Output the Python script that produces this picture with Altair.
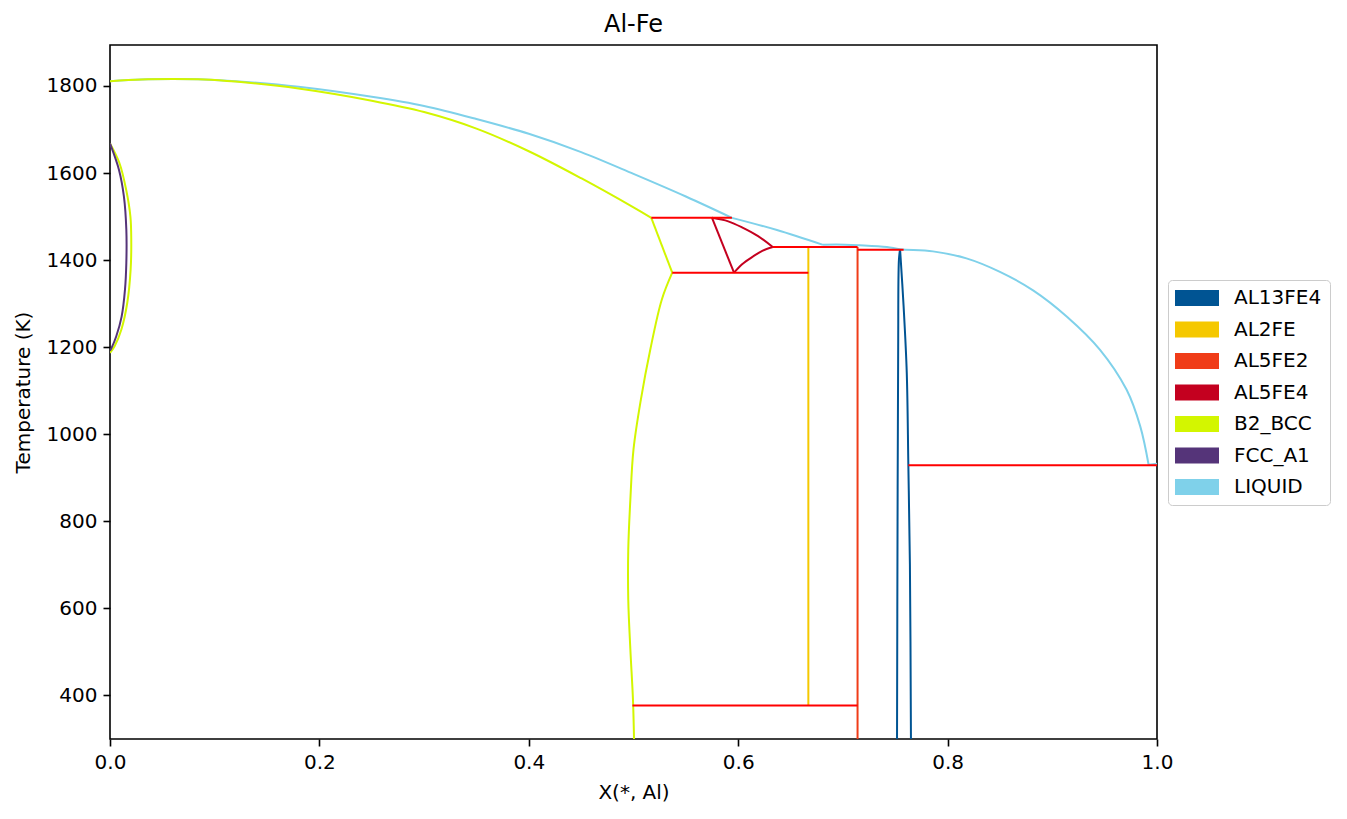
import altair as alt
import pandas as pd

PHASES = ["AL13FE4", "AL2FE", "AL5FE2", "AL5FE4", "B2_BCC", "FCC_A1", "LIQUID"]
COLORS = ["#005493", "#f5c800", "#f03c18", "#c4001f", "#d3f600", "#553479", "#7fd1ea"]

# LIQUID boundary (liquidus), split at kinks
LIQ1_X = [0.0, 0.03, 0.06, 0.09, 0.12, 0.18, 0.25, 0.30, 0.35, 0.40, 0.45, 0.50, 0.55, 0.594]
LIQ1_T = [1811, 1815, 1816, 1815, 1811, 1798, 1775, 1754, 1724, 1690, 1648, 1598, 1546, 1497]
LIQ2_X = [0.594, 0.637, 0.681]
LIQ2_T = [1497, 1469, 1435]
LIQ3_X = [0.681, 0.694, 0.716, 0.742, 0.7546, 0.786, 0.818, 0.850, 0.882, 0.914, 0.9456,
          0.971, 0.984, 0.992]
LIQ3_T = [1435, 1436, 1434, 1430, 1425, 1420, 1404, 1373, 1330, 1270, 1194,
          1102, 1018, 930]
LIQ4_X = [0.992, 1.0]
LIQ4_T = [930, 932]

# B2_BCC: solidus, connection and solvus towards Al-rich side
B2A_X = [0.0, 0.03, 0.06, 0.09, 0.12, 0.18, 0.25, 0.30, 0.35, 0.40, 0.45, 0.50, 0.517]
B2A_T = [1811, 1815, 1816, 1815, 1810, 1794, 1766, 1740, 1702, 1650, 1588, 1521, 1497]
B2B_X = [0.517, 0.537]
B2B_T = [1497, 1371]
B2C_X = [0.537, 0.527, 0.516, 0.507, 0.500, 0.497, 0.495, 0.495, 0.497, 0.4995, 0.5005]
B2C_T = [1371, 1309, 1194, 1079, 965, 850, 735, 620, 506, 390, 300]

# B2_BCC side of the gamma loop
B2L_X = [0.0, 0.009, 0.0155, 0.0195, 0.0203, 0.0197, 0.0165, 0.0108, 0.0044, 0.0]
B2L_T = [1668, 1623, 1561, 1500, 1447, 1378, 1302, 1240, 1202, 1187]

# FCC_A1 gamma loop
FCC_X = [0.0, 0.0086, 0.0133, 0.0156, 0.0156, 0.0143, 0.0111, 0.006, 0.0016, 0.0]
FCC_T = [1668, 1607, 1546, 1470, 1394, 1332, 1270, 1225, 1199, 1192]

# AL5FE4 lens
A54A_X = [0.575, 0.596]
A54A_T = [1497, 1371]
A54B_X = [0.575, 0.5905, 0.6046, 0.619, 0.633]
A54B_T = [1497, 1489, 1474, 1455, 1430]
A54C_X = [0.596, 0.604, 0.614, 0.623, 0.633]
A54C_T = [1371, 1391, 1408, 1421, 1430]

# AL2FE and AL5FE2 line compounds
A2_X = [0.667, 0.667]
A2_T = [1430, 377]
A52_X = [0.714, 0.714]
A52_T = [1430, 300]

# AL13FE4 narrow field
A134L_X = [0.7517, 0.7522, 0.7528, 0.7535, 0.7546]
A134L_T = [300, 800, 1200, 1400, 1425]
A134R_X = [0.7546, 0.758, 0.761, 0.7625, 0.764, 0.765]
A134R_T = [1425, 1293, 1141, 930, 700, 300]

# three-phase (tie) lines
TIE_X1 = [0.517, 0.537, 0.633, 0.714, 0.7625, 0.499]
TIE_X2 = [0.594, 0.667, 0.714, 0.758, 1.0, 0.714]
TIE_T = [1497, 1371, 1430, 1424, 929, 377]

segments = [
    ("LIQUID", LIQ1_X, LIQ1_T),
    ("LIQUID", LIQ2_X, LIQ2_T),
    ("LIQUID", LIQ3_X, LIQ3_T),
    ("LIQUID", LIQ4_X, LIQ4_T),
    ("B2_BCC", B2A_X, B2A_T),
    ("B2_BCC", B2B_X, B2B_T),
    ("B2_BCC", B2C_X, B2C_T),
    ("B2_BCC", B2L_X, B2L_T),
    ("FCC_A1", FCC_X, FCC_T),
    ("AL5FE4", A54A_X, A54A_T),
    ("AL5FE4", A54B_X, A54B_T),
    ("AL5FE4", A54C_X, A54C_T),
    ("AL2FE", A2_X, A2_T),
    ("AL5FE2", A52_X, A52_T),
    ("AL13FE4", A134L_X, A134L_T),
    ("AL13FE4", A134R_X, A134R_T),
]

rows = []
for i, (ph, xs, ts) in enumerate(segments):
    for j, (x, t) in enumerate(zip(xs, ts)):
        rows.append({"seg": i, "phase": ph, "ord": j, "X": x, "T": t})
df = pd.DataFrame(rows)
tie = pd.DataFrame({"x1": TIE_X1, "x2": TIE_X2, "T": TIE_T})
# legend-only data: one point per phase, placed outside the plotted domain (clipped)
leg = pd.DataFrame({"phase": PHASES, "X": [-1.0] * len(PHASES), "T": [1000] * len(PHASES)})

FONT = "DejaVu Sans"
RECT = "M-2.75,-1H2.75V1H-2.75Z"
xscale = alt.Scale(domain=[0, 1], nice=False, zero=False)
yscale = alt.Scale(domain=[300, 1894], nice=False, zero=False)
cscale = alt.Scale(domain=PHASES, range=COLORS)

xenc = alt.X("X:Q", scale=xscale, title="X(*, Al)",
             axis=alt.Axis(values=[0, 0.2, 0.4, 0.6, 0.8, 1.0], format=".1f", labelFlush=False))
yenc = alt.Y("T:Q", scale=yscale, title="Temperature (K)",
             axis=alt.Axis(values=[400, 600, 800, 1000, 1200, 1400, 1600, 1800], format="d",
                           labelFlush=False))

legend_layer = alt.Chart(leg).mark_point(filled=True, clip=True, shape=RECT, size=256,
                                         opacity=1, strokeWidth=0).encode(
    x=xenc,
    y=yenc,
    color=alt.Color("phase:N", scale=cscale, title=None,
                    legend=alt.Legend(orient="none", legendX=1058, legendY=235)),
)

lines = alt.Chart(df).mark_line(strokeWidth=2, clip=True, interpolate="catmull-rom").encode(
    x=alt.X("X:Q", scale=xscale),
    y=alt.Y("T:Q", scale=yscale),
    color=alt.Color("phase:N", scale=cscale, legend=None),
    detail="seg:N",
    order="ord:Q",
)

ties = alt.Chart(tie).mark_rule(strokeWidth=2, color="#ff0000").encode(
    x=alt.X("x1:Q", scale=xscale),
    x2="x2:Q",
    y=alt.Y("T:Q", scale=yscale),
)

chart = alt.layer(legend_layer, lines, ties).resolve_legend(color="independent").properties(
    width=1047,
    height=694,
    autosize=alt.AutoSizeParams(type="none"),
    padding={"left": 110, "top": 45, "right": 190, "bottom": 80},
    title=alt.TitleParams("Al-Fe", fontSize=24, font=FONT, fontWeight="normal",
                          anchor="middle", offset=8, color="black"),
).configure_view(
    stroke="black", strokeWidth=1.6
).configure_axis(
    grid=False, domain=False, tickColor="black", tickWidth=1.6, tickSize=7,
    labelPadding=6, labelFont=FONT, labelFontSize=20, labelColor="black",
    titleFont=FONT, titleFontSize=20, titleFontWeight="normal", titleColor="black",
    titlePadding=10,
).configure_axisY(
    titlePadding=13,
).configure_legend(
    labelFont=FONT, labelFontSize=20, labelColor="black",
    symbolType=RECT, symbolSize=256, symbolStrokeWidth=0, symbolOpacity=1,
    symbolOffset=11, labelOffset=27, rowPadding=11.5,
    padding=8, cornerRadius=4, strokeColor="#cccccc", fillColor="white",
)

chart.save("out.html", embed_options={"renderer": "svg", "actions": False})
